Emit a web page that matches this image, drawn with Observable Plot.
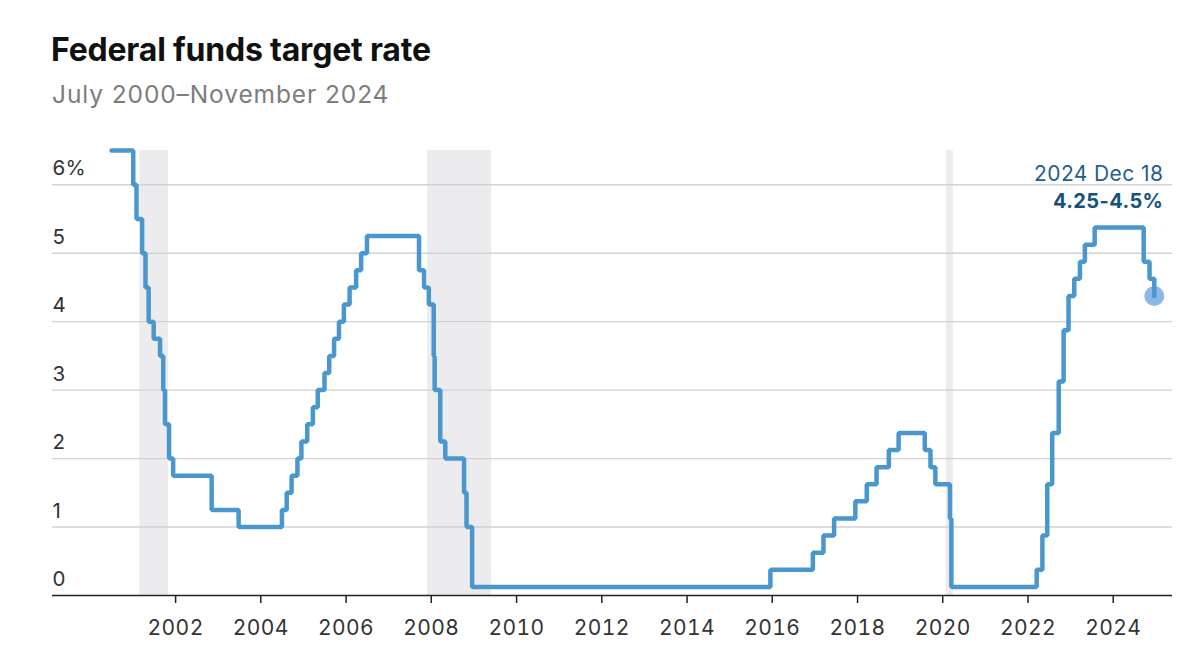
<!DOCTYPE html>
<html>
<head>
<meta charset="utf-8">
<script src="https://cdn.jsdelivr.net/npm/d3@7"></script>
<script src="https://cdn.jsdelivr.net/npm/@observablehq/plot@0.6"></script>
<style>
  html, body { margin: 0; padding: 0; background: #fff; }
  body { width: 1200px; height: 661px; position: relative; overflow: hidden; font-family: Inter, "Noto Sans", sans-serif; }
  #title { position: absolute; left: 51px; top: 30px; font-size: 32px; font-weight: 700; color: #111; letter-spacing: -0.2px; }
  #subtitle { position: absolute; left: 52px; top: 79px; font-size: 24.5px; font-weight: 400; color: #7d7d7d; letter-spacing: 0.9px; }
  #chart { position: absolute; left: 0; top: 130px; }
  #chart text { letter-spacing: 0.4px; }
</style>
</head>
<body>
<div id="title">Federal funds target rate</div>
<div id="subtitle">July 2000–November 2024</div>
<div id="chart"></div>
<script>
// Target rate change dates (midpoint of range after Dec 2008)
const changeDates = [
  "2000-07-01","2001-01-03","2001-01-31","2001-03-20","2001-04-18","2001-05-15","2001-06-27",
  "2001-08-21","2001-09-17","2001-10-02","2001-11-06","2001-12-11","2002-11-06","2003-06-25",
  "2004-06-30","2004-08-10","2004-09-21","2004-11-10","2004-12-14","2005-02-02","2005-03-22",
  "2005-05-03","2005-06-30","2005-08-09","2005-09-20","2005-11-01","2005-12-13","2006-01-31",
  "2006-03-28","2006-05-10","2006-06-29","2007-09-18","2007-10-31","2007-12-11","2008-01-22",
  "2008-01-30","2008-03-18","2008-04-30","2008-10-08","2008-10-29","2008-12-16","2015-12-16",
  "2016-12-14","2017-03-15","2017-06-14","2017-12-13","2018-03-21","2018-06-13","2018-09-26",
  "2018-12-19","2019-07-31","2019-09-18","2019-10-30","2020-03-03","2020-03-15","2022-03-16",
  "2022-05-04","2022-06-15","2022-07-27","2022-09-21","2022-11-02","2022-12-14","2023-02-01",
  "2023-03-22","2023-05-03","2023-07-26","2024-09-18","2024-11-07","2024-12-18"
];
const rates = [
  6.5, 6.0, 5.5, 5.0, 4.5, 4.0, 3.75,
  3.5, 3.0, 2.5, 2.0, 1.75, 1.25, 1.0,
  1.25, 1.5, 1.75, 2.0, 2.25, 2.5, 2.75,
  3.0, 3.25, 3.5, 3.75, 4.0, 4.25, 4.5,
  4.75, 5.0, 5.25, 4.75, 4.5, 4.25, 3.5,
  3.0, 2.25, 2.0, 1.5, 1.0, 0.125, 0.375,
  0.625, 0.875, 1.125, 1.375, 1.625, 1.875, 2.125,
  2.375, 2.125, 1.875, 1.625, 1.125, 0.125, 0.375,
  0.875, 1.625, 2.375, 3.125, 3.875, 4.375, 4.625,
  4.875, 5.125, 5.375, 4.875, 4.625, 4.375
];
// Recessions (NBER)
const recessionStarts = ["2001-03-01", "2007-12-01", "2020-02-01"];
const recessionEnds   = ["2001-11-01", "2009-06-01", "2020-04-01"];
// Axis ticks
const yTicks = [0, 1, 2, 3, 4, 5, 6];
const yTickLabels = ["0", "1", "2", "3", "4", "5", "6%"];
const xTickYears = [2002, 2004, 2006, 2008, 2010, 2012, 2014, 2016, 2018, 2020, 2022, 2024];
const annotationDate = "2024 Dec 18";
const annotationValue = "4.25-4.5%";

const parse = d3.utcParse("%Y-%m-%d");
const data = changeDates.map((d, i) => ({date: parse(d), rate: rates[i]}));
const recessions = recessionStarts.map((s, i) => ({start: parse(s), end: parse(recessionEnds[i])}));
const xTicks = xTickYears.map(y => new Date(Date.UTC(y, 0, 1)));
const last = data[data.length - 1];
const yLabels = yTicks.map((v, i) => ({v, label: yTickLabels[i]}));

const chart = Plot.plot({
  width: 1200,
  height: 531,
  marginLeft: 52,
  marginRight: 28,
  marginTop: 20,
  marginBottom: 66,
  style: {fontFamily: "Inter, 'Noto Sans', sans-serif", background: "#fff"},
  x: {type: "utc", domain: [new Date(Date.UTC(1999, 1, 11)), new Date(Date.UTC(2025, 4, 23))], axis: null},
  y: {domain: [0, 6.5], axis: null},
  marks: [
    Plot.rect(recessions, {x1: "start", x2: "end", fill: "#ececee"}),
    Plot.ruleY(yTicks.filter(v => v > 0), {stroke: "#d2d2d2", strokeWidth: 1.4}),
    Plot.text(yLabels, {y: "v", text: "label", frameAnchor: "left", textAnchor: "start", dy: -16, fontSize: 20.5, fill: "#333"}),
    Plot.axisX({ticks: xTicks, tickFormat: d3.utcFormat("%Y"), tickSize: 8, tickPadding: 17, fontSize: 21, stroke: "#222", color: "#333", strokeWidth: 1.5, label: null}),
    Plot.ruleY([0], {stroke: "#222", strokeWidth: 1.5}),
    Plot.dot([last], {x: "date", y: "rate", r: 10, fill: "#8db7e6", stroke: "none"}),
    Plot.line(data, {x: "date", y: "rate", curve: "step-after", stroke: "#4a97ce", strokeWidth: 4.5, strokeLinejoin: "miter"}),
    Plot.text([last], {x: "date", y: "rate", text: () => annotationDate, textAnchor: "end", dx: 9, dy: -122, fontSize: 21, fill: "#1f5f8e", stroke: "#fff", strokeWidth: 6}),
    Plot.text([last], {x: "date", y: "rate", text: () => annotationValue, textAnchor: "end", dx: 9, dy: -94, fontSize: 20, fontWeight: 700, fill: "#17527f", stroke: "#fff", strokeWidth: 6})
  ]
});
document.getElementById("chart").appendChild(chart);
</script>
</body>
</html>
